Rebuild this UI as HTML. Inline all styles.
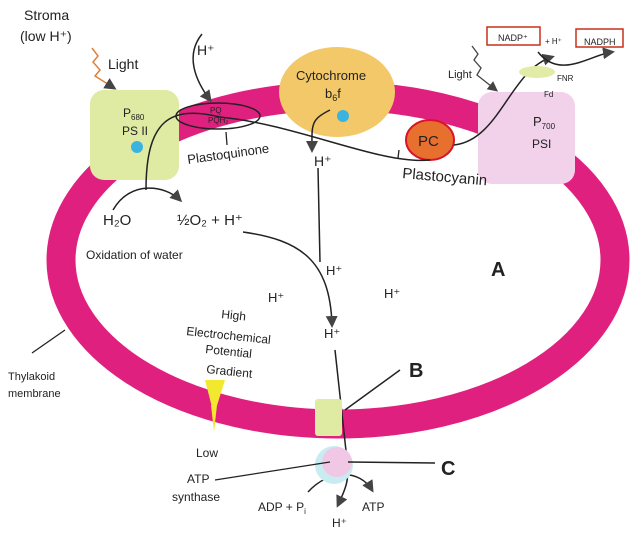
<!DOCTYPE html>
<html><head><style>body{margin:0;background:#fff}svg{display:block}text{font-family:"Liberation Sans",sans-serif;fill:#222}</style></head><body>
<svg width="639" height="536" viewBox="0 0 639 536" xmlns="http://www.w3.org/2000/svg">
<defs><marker id="a" markerWidth="8" markerHeight="8" refX="6" refY="4" orient="auto"><path d="M0,0 L8,4 L0,8 z" fill="#444"/></marker></defs>
<ellipse cx="338" cy="260" rx="277" ry="164" fill="none" stroke="#e0207f" stroke-width="29"/>
<rect x="90" y="90" width="89" height="90" rx="14" fill="#dfeaa3"/>
<circle cx="137" cy="147" r="6" fill="#3bb3e0"/>
<text x="123" y="117" font-size="12">P<tspan font-size="8" dy="3">680</tspan></text>
<text x="122" y="135" font-size="12">PS II</text>
<ellipse cx="337" cy="92" rx="58" ry="45" fill="#f2c868"/>
<circle cx="343" cy="116" r="6" fill="#3bb3e0"/>
<text x="296" y="80" font-size="13">Cytochrome</text>
<text x="325" y="98" font-size="13">b<tspan font-size="9" dy="3">6</tspan><tspan dy="-3">f</tspan></text>
<rect x="478" y="92" width="97" height="92" rx="14" fill="#f2d2ea"/>
<text x="533" y="126" font-size="13">P<tspan font-size="8" dy="3">700</tspan></text>
<text x="532" y="148" font-size="12">PSI</text>
<ellipse cx="430" cy="140" rx="24" ry="20" fill="#e8702e" stroke="#d8142a" stroke-width="2"/>
<text x="418" y="146" font-size="15">PC</text>
<ellipse cx="218" cy="116" rx="42" ry="13" fill="none" stroke="#222" stroke-width="1.5"/>
<text x="210" y="113" font-size="8" fill="#222">PQ</text><text x="208" y="123" font-size="8">PQH₂</text>
<path d="M146,190 C146,120 170,105 220,117 C300,125 380,165 430,160" fill="none" stroke="#222" stroke-width="1.5"/>
<path d="M454,145 C500,140 510,70 552,57" fill="none" stroke="#222" stroke-width="1.5" marker-end="url(#a)"/>
<path d="M538,52 C560,80 590,55 612,52" fill="none" stroke="#222" stroke-width="1.5" marker-end="url(#a)"/>
<path d="M202,34 C185,55 195,80 210,100" fill="none" stroke="#222" stroke-width="1.5" marker-end="url(#a)"/>
<path d="M113,210 C130,180 165,185 180,200" fill="none" stroke="#222" stroke-width="1.5" marker-end="url(#a)"/>
<path d="M330,110 C310,120 312,125 312,150" fill="none" stroke="#222" stroke-width="1.5" marker-end="url(#a)"/>
<path d="M318,168 L320,262" fill="none" stroke="#222" stroke-width="1.5"/>
<path d="M243,232 C300,240 330,260 332,325" fill="none" stroke="#222" stroke-width="1.5" marker-end="url(#a)"/>
<path d="M335,350 L347,460 C350,480 345,490 338,505" fill="none" stroke="#222" stroke-width="1.5" marker-end="url(#a)"/>
<path d="M308,492 C330,468 360,470 372,490" fill="none" stroke="#222" stroke-width="1.5" marker-end="url(#a)"/>
<path d="M92,48 L98,56 L93,62 L100,70 L95,76 L114,88" fill="none" stroke="#e0803a" stroke-width="1.5" marker-end="url(#a)"/>
<path d="M472,46 L478,54 L474,60 L481,68 L477,75 L496,90" fill="none" stroke="#444" stroke-width="1.3" marker-end="url(#a)"/>
<ellipse cx="537" cy="72" rx="18" ry="6" fill="#e3eca6"/>
<rect x="487" y="27" width="53" height="18" fill="none" stroke="#c8301a" stroke-width="1.5"/>
<rect x="576" y="29" width="47" height="18" fill="none" stroke="#c8301a" stroke-width="1.5"/>
<text x="498" y="41" font-size="9">NADP⁺</text><text x="545" y="44" font-size="8">+ H⁺</text><text x="584" y="45" font-size="9">NADPH</text>
<text x="557" y="81" font-size="8">FNR</text><text x="544" y="97" font-size="8">Fd</text>
<rect x="315" y="399" width="27" height="37" rx="3" fill="#dfeaa3"/>
<circle cx="334" cy="465" r="19" fill="#c8ecf2"/><circle cx="337" cy="462" r="15" fill="#f0c8e6"/>
<path d="M215,480 L330,462" stroke="#222" stroke-width="1.3"/>
<path d="M348,462 L435,463" stroke="#222" stroke-width="1.5"/>
<path d="M345,410 L400,370" stroke="#222" stroke-width="1.5"/>
<path d="M32,353 L65,330" stroke="#222" stroke-width="1.3"/>
<path d="M226,132 L227,145 M399,150 L398,158" stroke="#222" stroke-width="1.3"/>
<polygon points="205,380 225,380 214,415" fill="#f2e830"/><polygon points="211,405 217,405 214,432" fill="#f2e830"/>
<text x="24" y="20" font-size="14">Stroma</text>
<text x="20" y="41" font-size="14">(low H⁺)</text>
<text x="108" y="69" font-size="14">Light</text>
<text x="197" y="55" font-size="14">H⁺</text>
<text x="188" y="164" font-size="13" transform="rotate(-8 188 164)">Plastoquinone</text>
<text x="314" y="166" font-size="14">H⁺</text>
<text x="402" y="178" font-size="15" transform="rotate(5 402 178)">Plastocyanin</text>
<text x="448" y="78" font-size="11">Light</text>
<text x="103" y="225" font-size="15">H₂O</text>
<text x="177" y="225" font-size="15">½O₂ + H⁺</text>
<text x="86" y="259" font-size="12">Oxidation of water</text>
<text x="326" y="275" font-size="13">H⁺</text>
<text x="268" y="302" font-size="13">H⁺</text>
<text x="384" y="298" font-size="13">H⁺</text>
<text x="491" y="276" font-size="20" font-weight="bold">A</text>
<text x="324" y="338" font-size="13">H⁺</text>
<text x="221" y="318" font-size="12" transform="rotate(6 221 318)">High</text>
<text x="186" y="335" font-size="12" transform="rotate(6 186 335)">Electrochemical</text>
<text x="205" y="353" font-size="12" transform="rotate(6 205 353)">Potential</text>
<text x="206" y="373" font-size="12" transform="rotate(6 206 373)">Gradient</text>
<text x="409" y="377" font-size="20" font-weight="bold">B</text>
<text x="441" y="475" font-size="20" font-weight="bold">C</text>
<text x="8" y="380" font-size="11">Thylakoid</text>
<text x="8" y="397" font-size="11">membrane</text>
<text x="196" y="457" font-size="12">Low</text>
<text x="187" y="483" font-size="12">ATP</text>
<text x="172" y="501" font-size="12">synthase</text>
<text x="258" y="511" font-size="12">ADP + P<tspan font-size="8" dy="3">i</tspan></text>
<text x="362" y="511" font-size="12">ATP</text>
<text x="332" y="527" font-size="12">H⁺</text>
</svg>
</body></html>
